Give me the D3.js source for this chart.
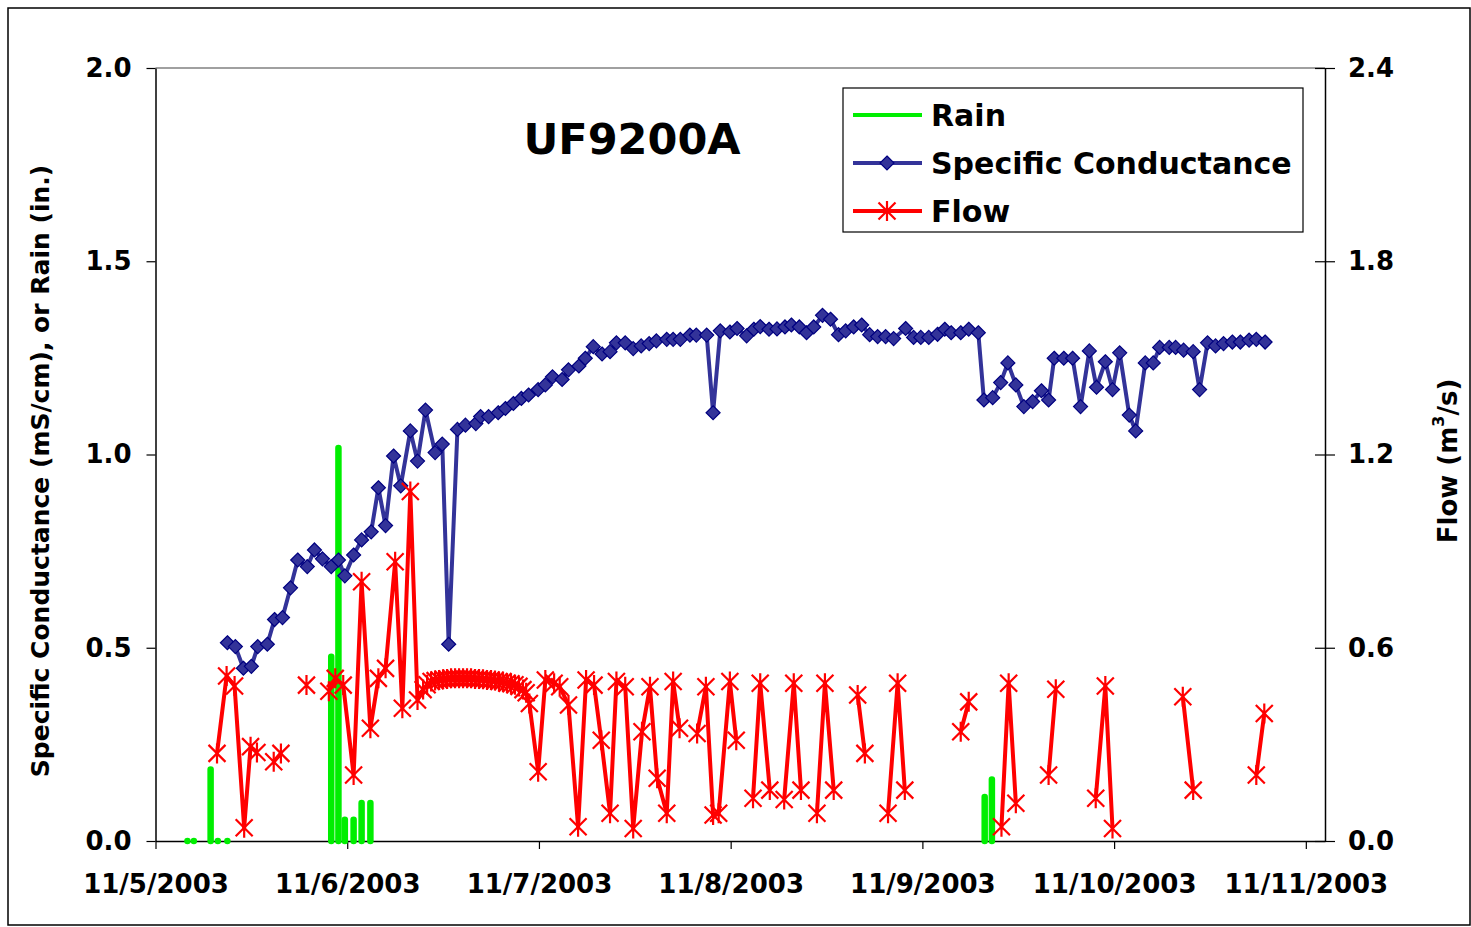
<!DOCTYPE html>
<html>
<head>
<meta charset="utf-8">
<script src="https://cdn.jsdelivr.net/npm/d3@7"></script>
<style>
  body { margin: 0; background: #fff; }
  text { font-family: "DejaVu Sans", sans-serif; font-weight: bold; fill: #000; }
</style>
</head>
<body>
<div id="viz"></div>
<script>
// hours after 11/5/2003 00:00
var xTickHours = [0, 24, 48, 72, 96, 120, 144];
var xTickLabels = ["11/5/2003", "11/6/2003", "11/7/2003", "11/8/2003", "11/9/2003", "11/10/2003", "11/11/2003"];
var leftTicks = [0, 0.5, 1.0, 1.5, 2.0];
var rightTicks = [0, 0.6, 1.2, 1.8, 2.4];

var rainHours = [4.0, 4.8, 6.9, 7.8, 9.0, 22.0, 22.9, 23.7, 24.8, 25.8, 26.9, 103.8, 104.7];
var rainInches = [0, 0, 0.185, 0, 0, 0.477, 1.017, 0.055, 0.055, 0.098, 0.098, 0.114, 0.159];

var scHours = [9.0,10.0,11.0,12.0,12.8,14.0,14.9,15.9,16.9,17.8,
  19.0,19.9,20.9,22.0,22.9,23.7,24.8,25.8,27.0,27.9,
  28.8,29.8,30.7,31.9,32.8,33.8,35.0,35.9,36.7,37.8,
  38.8,40.1,40.7,41.7,42.9,43.8,44.8,45.8,46.7,47.9,
  48.8,49.7,50.9,51.7,53.0,53.8,54.8,55.9,56.9,57.7,
  58.8,59.8,60.8,61.8,62.7,64.0,64.8,65.7,66.9,67.7,
  69.0,69.8,70.7,71.9,72.8,74.0,74.9,75.7,76.8,77.8,
  78.8,79.6,80.6,81.5,82.4,83.5,84.5,85.5,86.4,87.4,
  88.4,89.4,90.4,91.4,92.4,93.9,94.9,95.8,96.8,97.9,
  98.8,99.6,100.8,101.8,103.0,103.7,104.8,105.8,106.7,107.7,
  108.7,109.8,110.9,111.8,112.5,113.7,114.8,115.8,116.9,117.8,
  118.9,119.8,120.7,121.9,122.7,123.9,124.9,125.7,126.9,127.7,
  128.7,129.9,130.7,131.7,132.7,133.7,134.8,135.8,136.9,137.8,
  138.9];
var scValues = [0.513,0.503,0.447,0.452,0.503,0.509,0.573,0.578,0.655,0.727,
  0.71,0.753,0.73,0.71,0.727,0.686,0.74,0.779,0.80,0.914,
  0.816,0.996,0.919,1.061,0.983,1.115,1.005,1.027,0.509,1.065,
  1.076,1.08,1.098,1.098,1.108,1.119,1.132,1.145,1.154,1.168,
  1.18,1.201,1.194,1.219,1.229,1.249,1.279,1.26,1.266,1.289,
  1.289,1.274,1.281,1.287,1.294,1.298,1.298,1.298,1.309,1.309,
  1.309,1.108,1.32,1.317,1.326,1.307,1.324,1.331,1.324,1.325,
  1.33,1.335,1.33,1.315,1.33,1.36,1.35,1.31,1.32,1.33,
  1.335,1.31,1.305,1.305,1.30,1.326,1.303,1.303,1.303,1.311,
  1.324,1.315,1.315,1.324,1.315,1.141,1.147,1.186,1.237,1.18,
  1.124,1.137,1.165,1.141,1.249,1.249,1.249,1.124,1.268,1.174,
  1.24,1.168,1.263,1.102,1.061,1.237,1.237,1.277,1.277,1.277,
  1.27,1.266,1.168,1.289,1.281,1.287,1.291,1.291,1.296,1.298,
  1.291];

// null = missing reading (gap in the line)
var flowHours = [7.7,8.9,9.9,11.1,11.9,12.7,13.8,14.8,15.7,17.3,18.9,20.3,
  21.7,22.5,23.5,24.8,25.8,26.9,27.9,28.8,30.0,30.9,31.9,32.8,
  33.5,34.0,34.5,35.0,35.5,36.0,36.5,37.0,37.5,38.0,38.5,39.0,39.5,
  40.0,40.5,41.0,41.5,42.0,42.5,43.0,43.5,44.0,44.5,45.0,45.5,46.0,
  46.4,46.8,47.9,48.8,49.9,50.6,51.7,52.9,53.9,54.9,55.8,56.9,57.7,
  58.8,59.8,60.9,61.9,62.8,64.0,64.8,65.6,66.7,67.8,68.9,69.8,70.5,
  71.9,72.7,73.8,74.8,75.7,76.9,77.8,78.7,79.9,80.8,81.8,82.8,83.8,84.9,
  86.4,87.9,88.8,90.2,91.7,92.9,93.8,97.3,100.8,101.8,103.8,105.9,106.8,107.7,
  109.8,111.8,112.7,115.2,117.7,118.9,119.8,124.2,128.6,129.9,133.8,137.8,138.8];
var flowValues = [0.272,0.512,0.481,0.041,0.293,0.275,null,0.246,0.272,null,0.484,null,
  0.465,0.505,0.484,0.205,0.805,0.35,0.505,0.536,0.867,0.412,1.085,0.438,
  0.47,0.485,0.495,0.498,0.50,0.502,0.503,0.505,0.505,0.505,0.505,0.505,0.505,
  0.503,0.503,0.502,0.50,0.50,0.498,0.495,0.495,0.49,0.488,0.485,0.48,0.47,
  0.46,0.427,0.215,0.5,0.49,0.479,0.422,0.044,0.5,0.484,0.313,0.086,0.495,
  0.479,0.039,0.339,0.479,0.195,0.086,0.495,0.35,null,0.334,0.479,0.081,0.086,
  0.495,0.313,null,0.133,0.49,0.158,null,0.129,0.49,0.158,null,0.086,0.49,0.158,
  null,0.453,0.272,null,0.086,0.49,0.158,null,0.339,0.432,null,0.044,0.49,0.117,
  null,0.205,0.471,null,0.133,0.481,0.039,null,0.448,0.158,null,0.205,0.396];

function draw(){
  var W = 1471, H = 927;
  var pLeft = 155.5, pRight = 1325, pTop = 68, pBottom = 841;

  var svg = d3.select("#viz").append("svg")
    .attr("width", W).attr("height", H);

  // outer frame
  svg.append("rect")
    .attr("x", 8).attr("y", 8).attr("width", 1462).attr("height", 917)
    .attr("fill", "none").attr("stroke", "#000").attr("stroke-width", 1.5);

  var x = d3.scaleLinear().domain([0, 146.4]).range([pLeft, pRight]);
  var yL = d3.scaleLinear().domain([0, 2]).range([pBottom, pTop]);
  var yR = d3.scaleLinear().domain([0, 2.4]).range([pBottom, pTop]);

  // plot area top border
  svg.append("line")
    .attr("x1", pLeft).attr("x2", pRight).attr("y1", pTop).attr("y2", pTop)
    .attr("stroke", "#808080").attr("stroke-width", 1.5);

  // axes
  var xAxis = d3.axisBottom(x).tickValues(xTickHours)
    .tickFormat(function(d, i){ return xTickLabels[i]; })
    .tickSize(8).tickSizeOuter(0).tickPadding(26);
  var gx = svg.append("g").attr("transform", "translate(0," + pBottom + ")").call(xAxis);

  var lAxis = d3.axisLeft(yL).tickValues(leftTicks).tickFormat(d3.format(".1f"))
    .tickSize(9).tickSizeOuter(0).tickPadding(15);
  var gl = svg.append("g").attr("transform", "translate(" + pLeft + ",0)").call(lAxis);

  var rAxis = d3.axisRight(yR).tickValues(rightTicks).tickFormat(d3.format(".1f"))
    .tickSize(10).tickSizeOuter(0).tickPadding(13);
  var gr = svg.append("g").attr("transform", "translate(" + pRight + ",0)").call(rAxis);
  gr.selectAll(".tick").append("line").attr("x1", -10).attr("x2", 0);

  [gx, gl, gr].forEach(function(g){
    g.selectAll(".domain").attr("stroke", "#000").attr("stroke-width", 1.5);
    g.selectAll(".tick line").attr("stroke", "#000").attr("stroke-width", 1.2);
    g.selectAll("text").style("font-size", "26px").style("font-weight", "bold")
      .style("font-family", "'DejaVu Sans', sans-serif").attr("fill", "#000");
  });

  // rain
  var rain = rainHours.map(function(h, i){ return {h: h, v: rainInches[i]}; });
  svg.append("g").selectAll("path").data(rain).enter().append("path")
    .attr("d", function(d){ return "M" + x(d.h) + "," + yL(0) + "L" + x(d.h) + "," + yL(d.v); })
    .attr("stroke", "#00ee00").attr("stroke-width", 6.5).attr("stroke-linecap", "round")
    .attr("fill", "none");

  // specific conductance
  var sc = scHours.map(function(h, i){ return {h: h, v: scValues[i]}; });
  var scLine = d3.line().x(function(d){ return x(d.h); }).y(function(d){ return yL(d.v); });
  svg.append("path").datum(sc).attr("d", scLine)
    .attr("fill", "none").attr("stroke", "#333399").attr("stroke-width", 4)
    .attr("stroke-linejoin", "round");

  var diamond = "M0,-7L7,0L0,7L-7,0Z";
  svg.append("g").selectAll("path").data(sc).enter().append("path")
    .attr("d", diamond)
    .attr("transform", function(d){ return "translate(" + x(d.h) + "," + yL(d.v) + ")"; })
    .attr("fill", "#333399").attr("stroke", "#000080").attr("stroke-width", 1.2);

  // flow
  var flow = flowHours.map(function(h, i){ return {h: h, v: flowValues[i]}; });
  var flowLine = d3.line().defined(function(d){ return d.v !== null; })
    .x(function(d){ return x(d.h); }).y(function(d){ return yR(d.v); });
  svg.append("path").datum(flow).attr("d", flowLine)
    .attr("fill", "none").attr("stroke", "#ff0000").attr("stroke-width", 4)
    .attr("stroke-linejoin", "round");

  var star = "M-8.5,-8.5L8.5,8.5M-8.5,8.5L8.5,-8.5M0,-10L0,10";
  svg.append("g").selectAll("path").data(flow.filter(function(d){ return d.v !== null; }))
    .enter().append("path")
    .attr("d", star)
    .attr("transform", function(d){ return "translate(" + x(d.h) + "," + yR(d.v) + ")"; })
    .attr("fill", "none").attr("stroke", "#ff0000").attr("stroke-width", 2.2);

  // titles
  svg.append("text").attr("x", 632).attr("y", 154).attr("text-anchor", "middle")
    .style("font-size", "43px").text("UF9200A");

  svg.append("text")
    .attr("transform", "translate(40,471)rotate(-90)")
    .attr("text-anchor", "middle").attr("dominant-baseline", "central")
    .style("font-size", "25px")
    .text("Specific Conductance (mS/cm), or Rain (in.)");

  var rt = svg.append("text")
    .attr("transform", "translate(1448,461)rotate(-90)")
    .attr("text-anchor", "middle").attr("dominant-baseline", "central")
    .style("font-size", "26px");
  rt.append("tspan").text("Flow  (m");
  rt.append("tspan").attr("baseline-shift", "super").style("font-size", "16px").text("3");
  rt.append("tspan").text("/s)");

  // legend
  var lg = svg.append("g");
  lg.append("rect").attr("x", 843).attr("y", 88).attr("width", 460).attr("height", 144)
    .attr("fill", "#fff").attr("stroke", "#000").attr("stroke-width", 1.2);
  var legendRows = [
    {name: "Rain", color: "#00ee00", y: 115, mark: null},
    {name: "Specific Conductance", color: "#333399", y: 163, mark: "diamond"},
    {name: "Flow", color: "#ff0000", y: 211, mark: "star"}
  ];
  legendRows.forEach(function(r){
    lg.append("line").attr("x1", 853).attr("x2", 922).attr("y1", r.y).attr("y2", r.y)
      .attr("stroke", r.color).attr("stroke-width", 4);
    if (r.mark == "diamond") {
      lg.append("path").attr("d", diamond).attr("transform", "translate(887," + r.y + ")")
        .attr("fill", "#333399").attr("stroke", "#000080").attr("stroke-width", 1.2);
    }
    if (r.mark == "star") {
      lg.append("path").attr("d", star).attr("transform", "translate(887," + r.y + ")")
        .attr("fill", "none").attr("stroke", "#ff0000").attr("stroke-width", 2.2);
    }
    lg.append("text").attr("x", 931).attr("y", r.y).attr("dominant-baseline", "central")
      .style("font-size", "30px").text(r.name);
  });
}
draw();
</script>
</body>
</html>
